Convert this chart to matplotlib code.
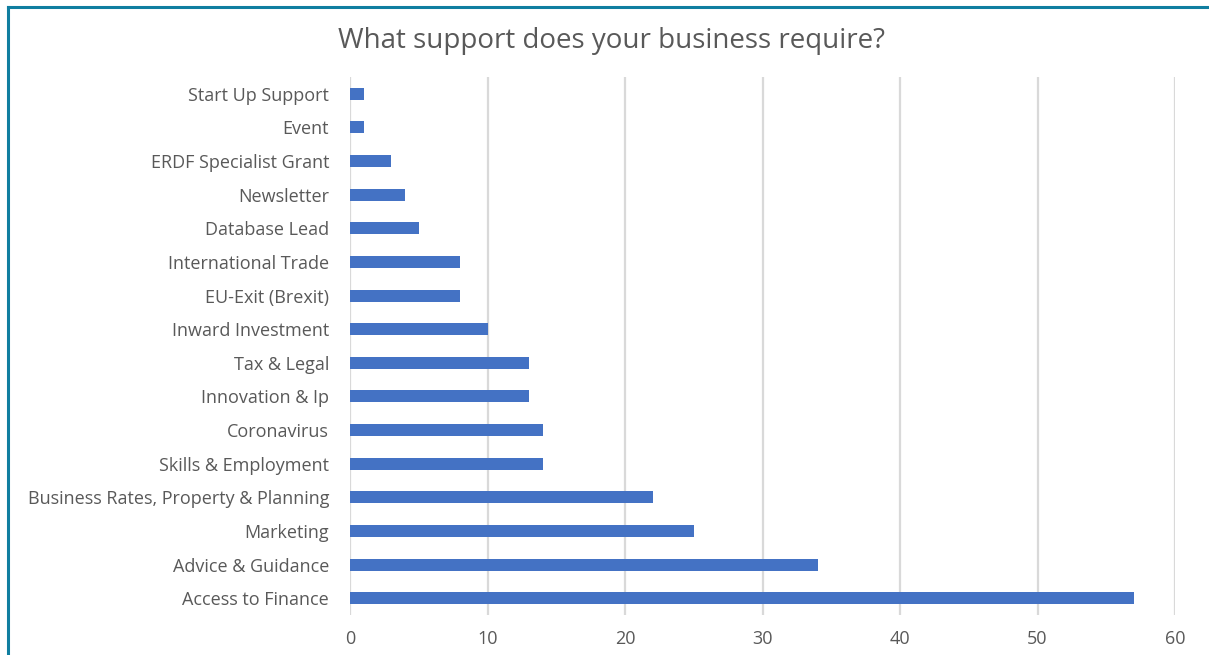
import matplotlib
matplotlib.use("Agg")
import matplotlib.pyplot as plt
from matplotlib.lines import Line2D

categories = ["Access to Finance", "Advice & Guidance", "Marketing",
              "Business Rates, Property & Planning", "Skills & Employment",
              "Coronavirus", "Innovation & Ip", "Tax & Legal", "Inward Investment",
              "EU-Exit (Brexit)", "International Trade", "Database Lead",
              "Newsletter", "ERDF Specialist Grant", "Event", "Start Up Support"]
values = [57, 34, 25, 22, 14, 14, 13, 13, 10, 8, 8, 5, 4, 3, 1, 1]
xticks = [0, 10, 20, 30, 40, 50, 60]

plt.rcParams['font.family'] = ['Open Sans', 'DejaVu Sans']
W, H = 1209, 655
fig = plt.figure(figsize=(W / 100, H / 100), dpi=100)
ax = fig.add_axes([350 / W, 1 - 615 / H, (1175 - 350) / W, (615 - 77) / H])

ypos = list(range(len(categories)))
ax.barh(ypos, values, height=0.36, color="#4472C4", zorder=3)
ax.set_ylim(-0.5, len(categories) - 0.5)
ax.set_xlim(0, 60)
ax.set_xticks(xticks)
ax.set_xticklabels([str(t) for t in xticks])
ax.set_yticks(ypos)
ax.set_yticklabels(categories)
ax.tick_params(axis='both', length=0, labelsize=13, colors="#595959")
ax.tick_params(axis='x', pad=11)
ax.tick_params(axis='y', pad=15)
ax.grid(axis='x', color="#d9d9d9", linewidth=1.6, zorder=0)
for s in ax.spines.values():
    s.set_visible(False)

fig.text(611 / W, 1 - 41 / H, "What support does your business require?",
         ha='center', va='center', fontsize=20, color="#595959")

fig.add_artist(Line2D([8 / W, 1.0], [1 - 7 / H, 1 - 7 / H], color="#107ea0",
                      linewidth=2.2, transform=fig.transFigure))
fig.add_artist(Line2D([8 / W, 8 / W], [0, 1 - 7 / H], color="#107ea0",
                      linewidth=2.2, transform=fig.transFigure))

fig.savefig("out.png", dpi=100)
